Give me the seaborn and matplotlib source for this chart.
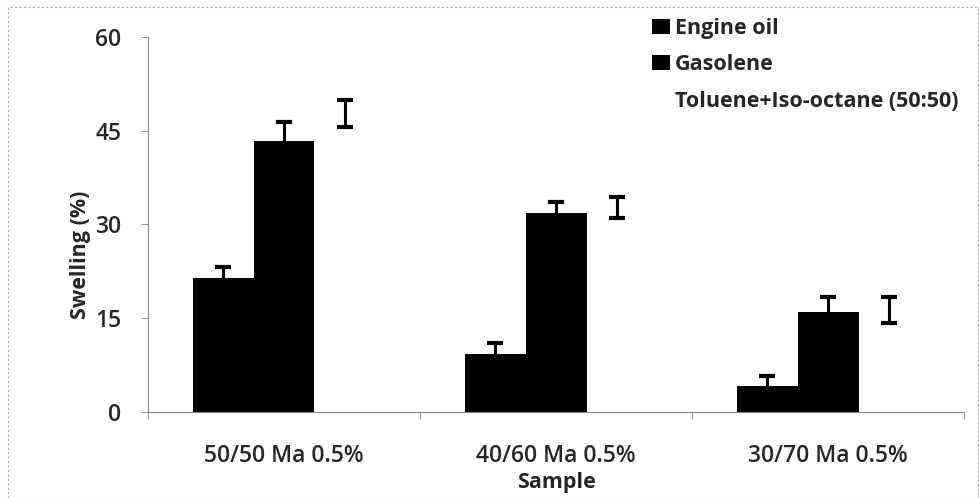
import matplotlib
matplotlib.use("Agg")
import matplotlib.pyplot as plt
import matplotlib.patches as mpatches
import numpy as np
import pandas as pd
import seaborn as sns

samples = ["50/50 Ma 0.5%", "40/60 Ma 0.5%", "30/70 Ma 0.5%"]
media = ["Engine oil", "Gasolene", "Toluene+Iso-octane (50:50)"]
engine_oil = [21.4, 9.3, 4.2]
gasolene = [43.4, 31.8, 15.9]
toluene_isooctane = [47.7, 32.7, 16.3]
engine_oil_err = [1.8, 1.7, 1.6]
gasolene_err = [3.0, 1.8, 2.5]
toluene_isooctane_err = [2.2, 1.7, 2.1]
yticks = [0, 15, 30, 45, 60]

sns.set_theme(style="white")
plt.rcParams["font.family"] = ["Open Sans", "DejaVu Sans"]

df = pd.DataFrame({
    "Sample": samples * 3,
    "Medium": [m for m in media for _ in samples],
    "Swelling": engine_oil + gasolene + toluene_isooctane,
})
errors = [engine_oil_err, gasolene_err, toluene_isooctane_err]

fig = plt.figure(figsize=(9.8, 4.98), dpi=100)
ax = fig.add_axes([0.151, 0.173, 0.833, 0.753])

sns.barplot(data=df, x="Sample", y="Swelling", hue="Medium", order=samples,
            hue_order=media, palette=["black", "black", "white"],
            width=0.67, errorbar=None, saturation=1, linewidth=0, ax=ax,
            legend=False)

# error bars centred on each bar top
for container, err in zip(ax.containers, errors):
    xs = [b.get_x() + b.get_width() / 2 for b in container]
    ys = [b.get_height() for b in container]
    ax.errorbar(xs, ys, yerr=err, fmt="none", ecolor="black",
                elinewidth=2.2, capsize=6, capthick=3)

ax.set_xlim(-0.5, 2.5)
ax.set_ylim(0, 60)
ax.set_yticks(yticks)
ax.set_xticks(range(len(samples)))
ax.set_xticks([-0.5, 0.5, 1.5, 2.5], minor=True)
ax.tick_params(axis="x", which="major", length=0, pad=23, labelsize=16.5)
ax.tick_params(axis="x", which="minor", length=5, width=0.6, color="#888888",
               direction="out", bottom=True)
ax.tick_params(axis="y", length=5, width=0.6, color="#888888",
               direction="out", left=True, labelsize=16.5, pad=14)
for lbl in ax.get_xticklabels() + ax.get_yticklabels():
    lbl.set_fontweight("semibold")

for s in ["top", "right"]:
    ax.spines[s].set_visible(False)
ax.spines["left"].set_color("#888888")
ax.spines["left"].set_linewidth(0.8)
ax.spines["bottom"].set_color("#888888")
ax.spines["bottom"].set_linewidth(0.8)
ax.spines["bottom"].set_linestyle((0, (3, 1)))

ax.set_xlabel("Sample", fontsize=15.5, fontweight="bold", labelpad=3)
ax.set_ylabel("Swelling (%)", fontsize=15.5, fontweight="bold")
ax.yaxis.label.set_verticalalignment("center")
ax.yaxis.set_label_coords(-0.083, 0.42)

handles = [mpatches.Patch(facecolor=c, edgecolor="none")
           for c in ["black", "black", "white"]]
fig.legend(handles, media, loc="upper left", bbox_to_anchor=(0.646, 1.003),
           frameon=False, prop={"weight": "bold", "size": 15.5},
           handlelength=0.8, handleheight=0.7, handletextpad=0.25,
           labelspacing=0.72)

# thin dotted frame around the whole figure
fig.patches.append(mpatches.Rectangle((0.008, 0.0), 0.99, 0.985,
                                      transform=fig.transFigure, fill=False,
                                      edgecolor="#aaaaaa", linewidth=0.8,
                                      linestyle=(0, (2, 2))))

fig.savefig("out.png", dpi=100)
